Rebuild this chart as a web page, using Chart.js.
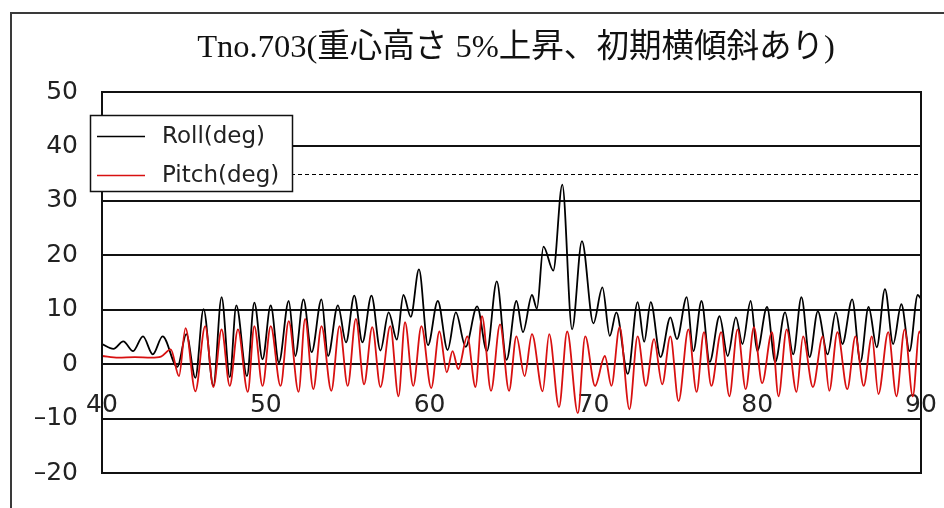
<!DOCTYPE html>
<html>
<head>
<meta charset="utf-8">
<script src="https://cdn.jsdelivr.net/npm/chart.js@4.4.1/dist/chart.umd.min.js"></script>
<style>
  html, body { margin: 0; padding: 0; background: #fff; }
  #wrap { width: 944px; height: 508px; }
</style>
</head>
<body>
<div id="wrap"><canvas id="c" width="944" height="508"></canvas></div>
<script>
// Title and series names
const chartTitle = 'Tno.703(重心高さ 5%上昇、初期横傾斜あり)';
const seriesNames = ['Roll(deg)', 'Pitch(deg)'];

// Time (s) axis range and ticks
const xMin = 40, xMax = 90, xStep = 10;
// Angle (deg) axis range and ticks
const yMin = -20, yMax = 50, yStep = 10;
// Dashed reference level (deg)
const refLevel = 35;

// Roll: turning points of the record (time s, angle deg)
const rollTime = [40.0, 40.7, 41.3, 41.9, 42.5, 43.1, 43.7, 44.6, 45.15, 45.7,
  46.2, 46.8, 47.3, 47.8, 48.2, 48.85, 49.3, 49.8, 50.3, 50.8,
  51.4, 51.8, 52.3, 52.8, 53.4, 53.8, 54.4, 54.9, 55.4, 55.9,
  56.45, 57.0, 57.5, 58.0, 58.4, 58.85, 59.35, 59.9, 60.5, 61.1,
  61.6, 62.2, 62.9, 63.5, 64.1, 64.7, 65.3, 65.7, 66.25, 66.55,
  66.95, 67.55, 68.1, 68.7, 69.3, 70.0, 70.55, 71.0, 71.4, 72.1,
  72.7, 73.1, 73.5, 74.1, 74.7, 75.1, 75.7, 76.1, 76.6, 77.1,
  77.7, 78.2, 78.7, 79.1, 79.6, 80.0, 80.6, 81.1, 81.7, 82.2,
  82.7, 83.2, 83.7, 84.3, 84.8, 85.2, 85.8, 86.3, 86.8, 87.3,
  87.8, 88.3, 88.8, 89.3, 89.8, 90.0];
const rollDeg = [3.7, 2.8, 4.2, 2.4, 5.1, 1.8, 5.1, -0.5, 5.5, -2.5,
  10.1, -4.0, 12.3, -2.4, 10.8, -2.2, 11.3, 0.9, 10.8, 0.3,
  11.6, 1.5, 11.9, 2.2, 11.9, 1.5, 10.8, 4.0, 12.6, 4.0,
  12.6, 2.5, 9.5, 4.5, 12.7, 8.7, 17.4, 3.5, 11.6, 2.6,
  9.5, 3.2, 10.6, 2.4, 15.2, 0.8, 11.6, 5.9, 12.7, 10.2,
  21.6, 17.2, 33.0, 6.4, 22.6, 7.5, 14.1, 5.2, 9.5, -1.8,
  11.4, 4.1, 11.4, 1.3, 8.6, 4.6, 12.3, 2.4, 11.6, 0.4,
  8.8, 1.5, 8.6, 3.7, 11.6, 2.4, 10.5, 0.4, 9.5, 1.8,
  12.3, 1.3, 9.7, 1.8, 9.5, 3.7, 11.9, 0.4, 10.5, 3.1,
  13.8, 3.7, 11.0, 2.4, 12.7, 12.0];

// Pitch: turning points of the record (time s, angle deg)
const pitchTime = [40.0, 41.0, 42.0, 43.0, 43.6, 44.2, 44.7, 45.1, 45.7, 46.3,
  46.8, 47.3, 47.8, 48.3, 48.9, 49.3, 49.8, 50.3, 50.9, 51.4,
  52.0, 52.4, 52.9, 53.4, 54.0, 54.5, 55.0, 55.5, 56.0, 56.5,
  57.0, 57.6, 58.1, 58.5, 59.0, 59.5, 60.1, 60.6, 61.05, 61.4,
  61.75, 62.3, 62.8, 63.2, 63.75, 64.3, 64.85, 65.3, 65.8, 66.25,
  66.9, 67.3, 67.9, 68.4, 69.05, 69.5, 70.1, 70.7, 71.1, 71.6,
  72.2, 72.7, 73.2, 73.7, 74.2, 74.7, 75.2, 75.8, 76.3, 76.75,
  77.2, 77.8, 78.3, 78.8, 79.3, 79.8, 80.3, 80.9, 81.3, 81.8,
  82.4, 82.8, 83.4, 84.0, 84.4, 84.9, 85.5, 86.0, 86.5, 87.0,
  87.4, 88.0, 88.5, 89.0, 89.5, 89.9, 90.0];
const pitchDeg = [1.5, 1.2, 1.3, 1.2, 1.4, 2.7, -2.2, 6.6, -5.0, 7.0,
  -4.2, 6.4, -4.0, 6.4, -5.1, 7.0, -4.0, 7.0, -4.0, 7.9,
  -5.1, 8.3, -4.6, 7.0, -4.9, 7.0, -4.0, 8.3, -3.7, 6.8,
  -4.2, 7.0, -5.9, 7.7, -4.0, 7.0, -4.4, 6.0, -1.5, 2.4,
  -0.9, 5.1, -4.2, 8.8, -4.9, 7.3, -4.9, 5.1, -2.2, 5.5,
  -5.0, 5.5, -7.9, 6.0, -9.0, 5.1, -4.0, 1.5, -4.0, 6.8,
  -8.3, 5.1, -4.0, 4.6, -3.7, 5.1, -6.8, 6.4, -5.1, 5.9,
  -4.0, 5.9, -5.9, 6.4, -4.6, 6.8, -3.5, 5.9, -5.9, 6.4,
  -5.1, 5.1, -4.2, 5.1, -4.9, 5.9, -4.6, 5.1, -4.0, 5.1,
  -5.5, 5.9, -5.9, 6.4, -5.9, 6.0, 5.5];

const toPoints = (xs, ys) => xs.map((x, i) => ({ x: x, y: ys[i] }));

const ROLL_COLOR = '#000000';
const PITCH_COLOR = '#d81010';
const TEXT_COLOR = '#222222';
const TICK_FONT = { family: 'DejaVu Sans', size: 25 };

// Outer frame, title, dashed level line, plot box and the boxed legend
const decorations = {
  id: 'decorations',
  beforeDraw(chart) {
    const ctx = chart.ctx;
    ctx.save();
    ctx.strokeStyle = '#3a3a3a';
    ctx.lineWidth = 2;
    ctx.beginPath();
    ctx.moveTo(11, 520);
    ctx.lineTo(11, 13);
    ctx.lineTo(960, 13);
    ctx.stroke();

    // chart title
    let size = 30;
    ctx.font = size + 'px "Liberation Serif", "Noto Sans CJK JP", serif';
    const w = ctx.measureText(chartTitle).width;
    size = size * 638 / w;
    ctx.font = size.toFixed(2) + 'px "Liberation Serif", "Noto Sans CJK JP", serif';
    ctx.fillStyle = '#111';
    ctx.textAlign = 'center';
    ctx.textBaseline = 'middle';
    ctx.fillText(chartTitle, 516, 48);
    ctx.restore();
  },
  beforeDatasetsDraw(chart) {
    const { ctx, chartArea } = chart;
    const y = chart.scales.y.getPixelForValue(refLevel);
    ctx.save();
    ctx.strokeStyle = '#000';
    ctx.lineWidth = 1;
    ctx.setLineDash([4, 3]);
    ctx.beginPath();
    ctx.moveTo(chartArea.left, Math.round(y) + 0.5);
    ctx.lineTo(chartArea.right, Math.round(y) + 0.5);
    ctx.stroke();
    ctx.restore();
  },
  afterDatasetsDraw(chart) {
    const { ctx, chartArea } = chart;
    ctx.save();
    ctx.strokeStyle = '#111';
    ctx.lineWidth = 2;
    ctx.strokeRect(Math.round(chartArea.left), Math.round(chartArea.top),
      Math.round(chartArea.right - chartArea.left), Math.round(chartArea.bottom - chartArea.top));

    // legend box
    const bx = 90, by = 115, bw = 202, bh = 76;
    ctx.fillStyle = '#fff';
    ctx.fillRect(bx, by, bw, bh);
    ctx.lineWidth = 1.5;
    ctx.strokeStyle = '#111';
    ctx.strokeRect(bx + 0.5, by + 0.5, bw, bh);
    const rows = [
      { name: seriesNames[0], color: ROLL_COLOR, y: 136 },
      { name: seriesNames[1], color: PITCH_COLOR, y: 175 }
    ];
    ctx.font = '23px "DejaVu Sans", sans-serif';
    ctx.textAlign = 'left';
    ctx.textBaseline = 'middle';
    rows.forEach(r => {
      ctx.strokeStyle = r.color;
      ctx.lineWidth = 1.5;
      ctx.beginPath();
      ctx.moveTo(97, r.y + 0.5);
      ctx.lineTo(145, r.y + 0.5);
      ctx.stroke();
      ctx.fillStyle = TEXT_COLOR;
      ctx.fillText(r.name, 162, r.y + 1);
    });
    ctx.restore();
  }
};

new Chart(document.getElementById('c'), {
  type: 'line',
  data: {
    datasets: [
      {
        label: seriesNames[0],
        data: toPoints(rollTime, rollDeg),
        borderColor: ROLL_COLOR,
        borderWidth: 1.8,
        pointRadius: 0,
        cubicInterpolationMode: 'monotone',
        fill: false,
        order: 1
      },
      {
        label: seriesNames[1],
        data: toPoints(pitchTime, pitchDeg),
        borderColor: PITCH_COLOR,
        borderWidth: 1.8,
        pointRadius: 0,
        cubicInterpolationMode: 'monotone',
        fill: false,
        order: 0
      }
    ]
  },
  options: {
    responsive: false,
    devicePixelRatio: 1,
    animation: false,
    parsing: false,
    layout: { padding: { left: 0, right: 23, top: 92, bottom: 35 } },
    plugins: {
      legend: { display: false },
      title: { display: false },
      tooltip: { enabled: false }
    },
    scales: {
      x: {
        type: 'linear',
        min: xMin,
        max: xMax,
        position: { y: 0 },
        afterFit(scale) { scale.paddingLeft = 0; scale.paddingRight = 0; },
        grid: { display: false },
        border: { display: false },
        ticks: {
          stepSize: xStep,
          padding: 18,
          color: TEXT_COLOR,
          font: TICK_FONT,
          maxRotation: 0
        }
      },
      y: {
        type: 'linear',
        min: yMin,
        max: yMax,
        position: 'left',
        afterFit(scale) { scale.width = 102; scale.paddingTop = 0; scale.paddingBottom = 0; },
        grid: { color: '#111', lineWidth: 2, drawTicks: false },
        border: { display: true, color: '#111', width: 2 },
        ticks: {
          stepSize: yStep,
          padding: 24,
          color: TEXT_COLOR,
          font: TICK_FONT,
          callback: v => (v < 0 ? '\u2013' + Math.abs(v) : String(v))
        }
      }
    }
  },
  plugins: [decorations]
});
</script>
</body>
</html>
